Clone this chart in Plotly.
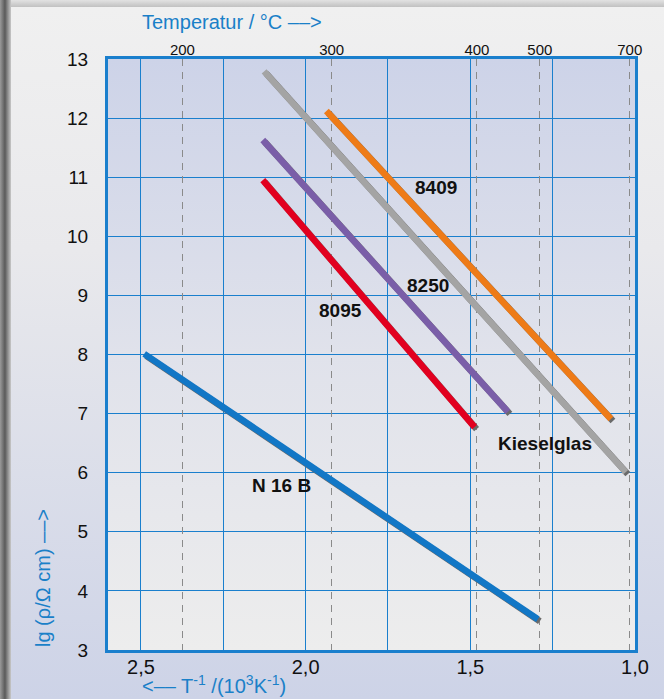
import base64
import plotly.graph_objects as go

# ---------------- data ----------------
inv_T_ticks = [2.5, 2.25, 2.0, 1.75, 1.5, 1.25, 1.0]
inv_T_labels = ["2,5", "", "2,0", "", "1,5", "", "1,0"]
lg_ticks = [3, 4, 5, 6, 7, 8, 9, 10, 11, 12, 13]

temp_labels = ["200", "300", "400", "500", "700"]
temp_pos = [2.374, 1.921, 1.480, 1.289, 1.016]   # position on the 1/T axis

series_names = ["N 16 B", "8095", "8250", "Kieselglas", "8409"]
n16b_x = [2.49, 1.295]
n16b_y = [8.01, 3.52]
g8095_x = [2.13, 1.487]
g8095_y = [10.95, 6.77]
g8250_x = [2.13, 1.386]
g8250_y = [11.63, 7.03]
kiesel_x = [2.126, 1.028]
kiesel_y = [12.79, 6.01]
g8409_x = [1.937, 1.073]
g8409_y = [12.12, 6.91]
series_x = [n16b_x, g8095_x, g8250_x, kiesel_x, g8409_x]
series_y = [n16b_y, g8095_y, g8250_y, kiesel_y, g8409_y]
series_colors = ["#1277c6", "#e2001f", "#7a5ea8", "#a4a4a4", "#ee7b17"]

label_x = [2.074, 1.895, 1.627, 1.274, 1.603]
label_y = [5.79, 8.75, 9.16, 6.49, 10.82]

# ---------------- layout geometry ----------------
W, H = 664, 699
ML, MR, MT, MB = 108, 27, 59, 47
PW, PH = W - ML - MR, H - MT - MB
dx, dy = 2 / PW, 2 / PH

BLUE = "#1a7fcd"
TXT_BLUE = "#1a80c8"
FONT = "Liberation Sans, Arial, sans-serif"

svg_bg = f'''<svg xmlns="http://www.w3.org/2000/svg" width="{W}" height="{H}" viewBox="0 0 {W} {H}" preserveAspectRatio="none">
<defs>
<linearGradient id="card" x1="0" y1="0" x2="0" y2="1">
<stop offset="0" stop-color="#f0f0f0"/><stop offset="0.35" stop-color="#e9e9ec"/><stop offset="1" stop-color="#cdd3e7"/>
</linearGradient>
<linearGradient id="lsh" x1="0" y1="0" x2="1" y2="0">
<stop offset="0" stop-color="#9a9a9a"/><stop offset="0.45" stop-color="#5a5a5a"/><stop offset="1" stop-color="#c8c8c8"/>
</linearGradient>
<linearGradient id="tsh" x1="0" y1="0" x2="0" y2="1">
<stop offset="0" stop-color="#e2e2e2"/><stop offset="1" stop-color="#bcbcbc"/>
</linearGradient>
</defs>
<rect width="{W}" height="{H}" fill="#d4d4d4"/>
<rect x="0" y="0" width="{W}" height="8" fill="url(#tsh)"/>
<rect x="0" y="0" width="11" height="{H}" fill="url(#lsh)"/>
<rect x="11" y="7" width="{W-11}" height="{H-7}" fill="url(#card)"/>
</svg>'''

svg_plot = '''<svg xmlns="http://www.w3.org/2000/svg" width="100" height="100" viewBox="0 0 100 100" preserveAspectRatio="none">
<defs><linearGradient id="p" x1="0" y1="0" x2="0" y2="1">
<stop offset="0" stop-color="#cdd3e8"/><stop offset="0.5" stop-color="#e0e2eb"/><stop offset="1" stop-color="#ededed"/>
</linearGradient></defs>
<rect width="100" height="100" fill="url(#p)"/>
</svg>'''


def uri(s):
    return "data:image/svg+xml;base64," + base64.b64encode(s.encode()).decode()


fig = go.Figure()

# dummy traces so that the main axes are drawn
fig.add_trace(go.Scatter(x=[None], y=[None], xaxis="x", yaxis="y", showlegend=False, hoverinfo="skip"))
fig.add_trace(go.Scatter(x=[None], y=[None], xaxis="x2", yaxis="y", showlegend=False, hoverinfo="skip"))

# shadows (offset subplot)
for xs, ys in zip(series_x, series_y):
    fig.add_trace(go.Scatter(x=xs, y=ys, mode="lines", xaxis="x3", yaxis="y3",
                             line=dict(color="#6a6a6a", width=6.5), showlegend=False, hoverinfo="skip"))
# main lines
for name, xs, ys, c in zip(series_names, series_x, series_y, series_colors):
    fig.add_trace(go.Scatter(x=xs, y=ys, mode="lines", xaxis="x4", yaxis="y4", name=name,
                             line=dict(color=c, width=6.5), showlegend=False))

xr = [2.6, 1.0]
yr = [3, 13]
hidden = dict(visible=False, showgrid=False, zeroline=False, fixedrange=True)

fig.update_layout(
    width=W, height=H,
    margin=dict(l=ML, r=MR, t=MT, b=MB, pad=0),
    paper_bgcolor="#e6e6e6",
    plot_bgcolor="rgba(0,0,0,0)",
    showlegend=False,
    font=dict(family=FONT, color="#111111"),
    xaxis=dict(domain=[0, 1 - dx], range=xr, anchor="y",
               tickmode="array", tickvals=inv_T_ticks, ticktext=inv_T_labels,
               showgrid=True, gridcolor=BLUE, gridwidth=1, zeroline=False,
               showline=True, linecolor=BLUE, linewidth=3, mirror=True,
               ticks="", ticklabelstandoff=-3,
               tickfont=dict(size=20, color="#111111", family=FONT)),
    xaxis2=dict(overlaying="x", side="top", range=xr, anchor="y",
                tickmode="array", tickvals=temp_pos, ticktext=temp_labels,
                showgrid=True, gridcolor="#8a8a8a", gridwidth=1.3, griddash="7px,6px",
                zeroline=False, showline=False, ticks="", ticklabelstandoff=0,
                tickfont=dict(size=15, color="#111111", family=FONT)),
    yaxis=dict(domain=[dy, 1], range=yr, anchor="x",
               tickmode="array", tickvals=lg_ticks,
               showgrid=True, gridcolor=BLUE, gridwidth=1, zeroline=False,
               showline=True, linecolor=BLUE, linewidth=3, mirror=True,
               ticks="", ticklabelstandoff=13,
               tickfont=dict(size=19, color="#111111", family=FONT)),
    xaxis3=dict(domain=[dx, 1], range=xr, anchor="y3", **hidden),
    yaxis3=dict(domain=[0, 1 - dy], range=yr, anchor="x3", **hidden),
    xaxis4=dict(domain=[0, 1 - dx], range=xr, anchor="y4", **hidden),
    yaxis4=dict(domain=[dy, 1], range=yr, anchor="x4", **hidden),
)

fig.add_layout_image(dict(source=uri(svg_bg), xref="paper", yref="paper",
                          x=-ML / PW, y=1 + MT / PH, sizex=W / PW, sizey=H / PH,
                          xanchor="left", yanchor="top", sizing="stretch", layer="below"))
fig.add_layout_image(dict(source=uri(svg_plot), xref="x domain", yref="y domain",
                          x=0, y=1, sizex=1, sizey=1,
                          xanchor="left", yanchor="top", sizing="stretch", layer="below"))

# series labels
for t, x, y in zip(series_names, label_x, label_y):
    fig.add_annotation(x=x, y=y, xref="x", yref="y", text=t, showarrow=False,
                       font=dict(size=19, color="#111111", family=FONT, weight="bold"),
                       xanchor="center", yanchor="middle")

# axis titles
fig.add_annotation(text="Temperatur / °C ––>", xref="paper", yref="paper",
                   x=(140 - ML) / PW, y=1 + (MT - 22) / PH, xanchor="left", yanchor="middle",
                   showarrow=False, font=dict(size=20, color=TXT_BLUE, family=FONT))
fig.add_annotation(text="<–– T<sup>-1</sup> /(10<sup>3</sup>K<sup>-1</sup>)", xref="paper", yref="paper",
                   x=(140 - ML) / PW, y=-(684 - (H - MB)) / PH, xanchor="left", yanchor="middle",
                   showarrow=False, font=dict(size=20, color=TXT_BLUE, family=FONT))
fig.add_annotation(text="lg (ρ/Ω cm) ––>", xref="paper", yref="paper", textangle=-90,
                   x=(43 - ML) / PW, y=(H - MB - 578) / PH, xanchor="center", yanchor="middle",
                   showarrow=False, font=dict(size=20, color=TXT_BLUE, family=FONT))

fig.write_html("out.html")
